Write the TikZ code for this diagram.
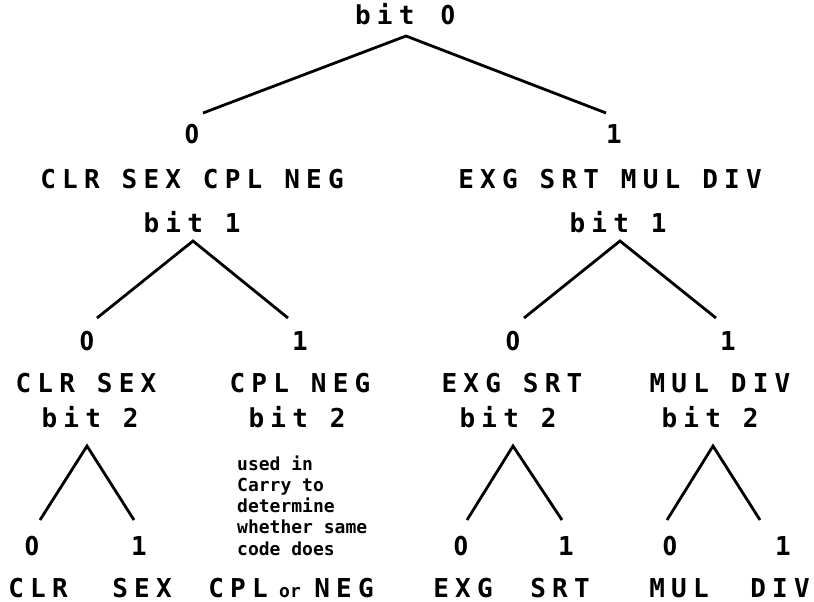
\documentclass[tikz,border=0pt]{standalone}
\usepackage{fontspec}
\newfontfamily\lfont[LetterSpace=24]{DejaVu Sans Mono Bold}
\newfontfamily\dfont{DejaVu Sans Bold}
\newfontfamily\sfont{DejaVu Sans Mono Bold}
\newcommand{\zr}{\scalebox{0.78}[1]{\dfont 0}}
\begin{document}
\begin{tikzpicture}[x=1pt,y=-1pt,
  big/.style={font=\lfont\fontsize{26}{30}\selectfont, inner sep=0pt, anchor=base},
  note/.style={font=\sfont\fontsize{18}{21}\selectfont, inner sep=0pt, anchor=base west},
  edge/.style={line width=2.8pt}]
\useasboundingbox (0,0) rectangle (814,602);
% level 0
\node[big] (b0) at (405,25) {bit \,\zr};
\coordinate (a0) at (406,36);
\coordinate (e0l) at (203,113);
\coordinate (e0r) at (606,113);
\draw[edge] (e0l) -- (a0) -- (e0r);
\node[big] (z0) at (192,143) {\zr};
\node[big] (o0) at (614,143) {1};
\node[big] (g0l) at (192,188) {CLR SEX CPL NEG};
\node[big] (g0r) at (610,188) {EXG SRT MUL DIV};
% level 1
\node[big] (b1l) at (192,232) {bit 1};
\node[big] (b1r) at (618,232) {bit 1};
\coordinate (a1l) at (193,241);
\coordinate (e1ll) at (97,318);
\coordinate (e1lr) at (288,318);
\coordinate (a1r) at (620,241);
\coordinate (e1rl) at (524,318);
\coordinate (e1rr) at (716,318);
\draw[edge] (e1ll) -- (a1l) -- (e1lr);
\draw[edge] (e1rl) -- (a1r) -- (e1rr);
\node[big] (z1a) at (87,350) {\zr};
\node[big] (o1a) at (300,350) {1};
\node[big] (z1b) at (513,350) {\zr};
\node[big] (o1b) at (728,350) {1};
\node[big] (g1a) at (86,392) {CLR SEX};
\node[big] (g1b) at (300,392) {CPL NEG};
\node[big] (g1c) at (512,392) {EXG SRT};
\node[big] (g1d) at (720,392) {MUL DIV};
% level 2
\node[big] (b2a) at (90,427) {bit 2};
\node[big] (b2b) at (297,427) {bit 2};
\node[big] (b2c) at (508,427) {bit 2};
\node[big] (b2d) at (710,427) {bit 2};
\coordinate (a2a) at (87,446);
\coordinate (e2al) at (40,520);
\coordinate (e2ar) at (134,520);
\coordinate (a2c) at (513,446);
\coordinate (e2cl) at (467,520);
\coordinate (e2cr) at (562,520);
\coordinate (a2d) at (713,446);
\coordinate (e2dl) at (667,520);
\coordinate (e2dr) at (760,520);
\draw[edge] (e2al) -- (a2a) -- (e2ar);
\draw[edge] (e2cl) -- (a2c) -- (e2cr);
\draw[edge] (e2dl) -- (a2d) -- (e2dr);
\node[note] (n1) at (237,470) {used in};
\node[note] (n2) at (237,491) {Carry to};
\node[note] (n3) at (237,512) {determine};
\node[note] (n4) at (237,533) {whether same};
\node[note] (n5) at (237,555) {code does};
% leaves
\node[big] (z2a) at (32,555) {\zr};
\node[big] (o2a) at (139,555) {1};
\node[big] (z2c) at (461,555) {\zr};
\node[big] (o2c) at (566,555) {1};
\node[big] (z2d) at (670,555) {\zr};
\node[big] (o2d) at (783,555) {1};
\node[big] (lclr) at (38,597) {CLR};
\node[big] (lsex) at (142,597) {SEX};
\node[big] (lcpl) at (238,597) {CPL};
\node[note, anchor=base] (lor) at (290,597) {or};
\node[big] (lneg) at (344,597) {NEG};
\node[big] (lexg) at (463,597) {EXG};
\node[big] (lsrt) at (560,597) {SRT};
\node[big] (lmul) at (679,597) {MUL};
\node[big] (ldiv) at (780,597) {DIV};
\end{tikzpicture}
\end{document}
